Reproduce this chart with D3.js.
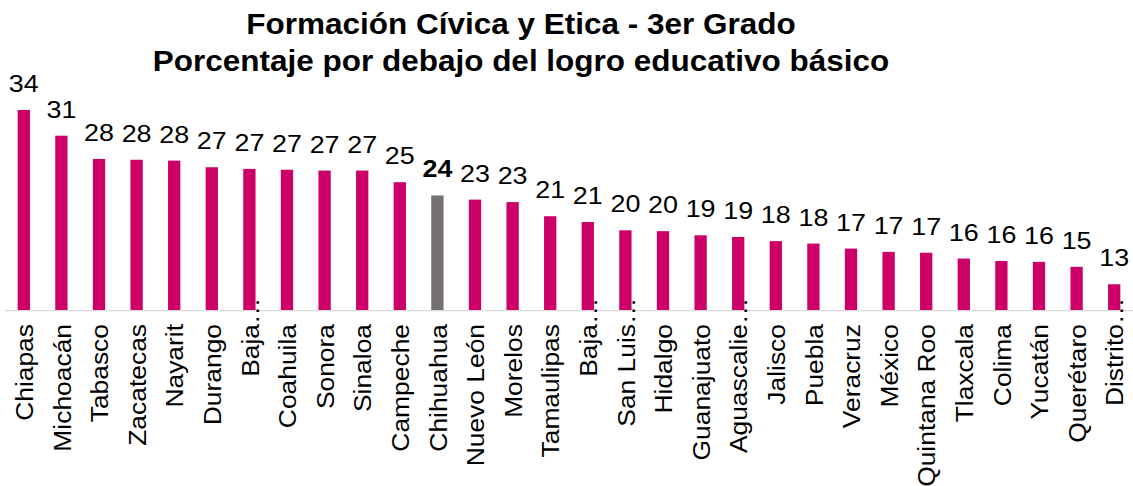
<!DOCTYPE html>
<html>
<head>
<meta charset="utf-8">
<script src="https://cdn.jsdelivr.net/npm/d3@7"></script>
<style>
  body { margin: 0; background: #fff; }
  text { font-family: "Liberation Sans", Arial, sans-serif; fill: #000; }
</style>
</head>
<body>
<svg id="chart"></svg>
<script>
const states = ['Chiapas', 'Michoacán', 'Tabasco', 'Zacatecas', 'Nayarit', 'Durango',
  'Baja California', 'Coahuila', 'Sonora', 'Sinaloa', 'Campeche', 'Chihuahua', 'Nuevo León',
  'Morelos', 'Tamaulipas', 'Baja California Sur', 'San Luis Potosí', 'Hidalgo', 'Guanajuato',
  'Aguascalientes', 'Jalisco', 'Puebla', 'Veracruz', 'México', 'Quintana Roo', 'Tlaxcala',
  'Colima', 'Yucatán', 'Querétaro', 'Distrito Federal'];

// labels as they show on the axis (cut ones end with an ellipsis)
const tickLabels = ['Chiapas', 'Michoacán', 'Tabasco', 'Zacatecas', 'Nayarit', 'Durango',
  'Baja…', 'Coahuila', 'Sonora', 'Sinaloa', 'Campeche', 'Chihuahua', 'Nuevo León',
  'Morelos', 'Tamaulipas', 'Baja…', 'San Luis…', 'Hidalgo', 'Guanajuato',
  'Aguascalie…', 'Jalisco', 'Puebla', 'Veracruz', 'México', 'Quintana Roo', 'Tlaxcala',
  'Colima', 'Yucatán', 'Querétaro', 'Distrito…'];

const pctBelow = [34.1, 31.0, 28.2, 28.1, 28.0, 27.2, 27.0, 26.9, 26.8, 26.8, 25.4, 23.8, 23.3,
  23.0, 21.3, 20.6, 19.6, 19.5, 19.0, 18.8, 18.3, 18.0, 17.4, 17.0, 16.9, 16.2,
  15.9, 15.8, 15.2, 13.1];

const highlight = 'Chihuahua';
const titleLines = ['Formación Cívica y Etica - 3er Grado', 'Porcentaje por debajo del logro educativo básico'];

const width = 1133;
const height = 486;
const baseY = 310;

const data = states.map((s, i) => ({ state: s, label: tickLabels[i], value: pctBelow[i] }));

const svg = d3.select('#chart')
  .attr('width', width)
  .attr('height', height);

const x = d3.scaleBand()
  .domain(states)
  .range([5, 1133])
  .paddingInner(0.673)
  .paddingOuter(0.3365);

const y = d3.scaleLinear()
  .domain([10, 40])
  .range([baseY, baseY - 30 * 8.3]);

// Title
svg.append('g')
  .selectAll('text')
  .data(titleLines)
  .enter()
  .append('text')
  .attr('transform', (d, i) => `translate(521,${34 + i * 37}) scale(1.05,1)`)
  .attr('text-anchor', 'middle')
  .attr('font-weight', 'bold')
  .attr('font-size', 30)
  .text(d => d);

// Bars
svg.append('g')
  .selectAll('rect')
  .data(data)
  .enter()
  .append('rect')
  .attr('x', d => x(d.state))
  .attr('y', d => y(d.value))
  .attr('width', x.bandwidth())
  .attr('height', d => y(10) - y(d.value))
  .attr('fill', d => d.state === highlight ? '#767171' : '#cc0066');

// Axis line
svg.append('line')
  .attr('x1', x.range()[0])
  .attr('x2', x.range()[1])
  .attr('y1', baseY + 0.6)
  .attr('y2', baseY + 0.6)
  .attr('stroke', '#d9d9d9')
  .attr('stroke-width', 1.4);

// Value labels
svg.append('g')
  .selectAll('text')
  .data(data)
  .enter()
  .append('text')
  .attr('transform', d => `translate(${x(d.state) + x.bandwidth() / 2},${y(d.value) - 18}) scale(1.12,1)`)
  .attr('text-anchor', 'middle')
  .attr('font-size', 24)
  .attr('font-weight', d => d.state === highlight ? 'bold' : 'normal')
  .text(d => Math.round(d.value));

// Category labels (rotated)
const ticks = svg.append('g')
  .selectAll('g')
  .data(data)
  .enter()
  .append('g')
  .attr('transform', d => `translate(${x(d.state) + x.bandwidth() / 2},324) rotate(-90) scale(1.1,1)`);

ticks.append('text')
  .attr('text-anchor', 'end')
  .attr('dy', '0.38em')
  .attr('font-size', 24)
  .text(d => d.label.replace('…', ''));

ticks.filter(d => d.label.endsWith('…'))
  .append('text')
  .attr('text-anchor', 'start')
  .attr('dy', '0.38em')
  .attr('font-size', 24)
  .text('…');
</script>
</body>
</html>
